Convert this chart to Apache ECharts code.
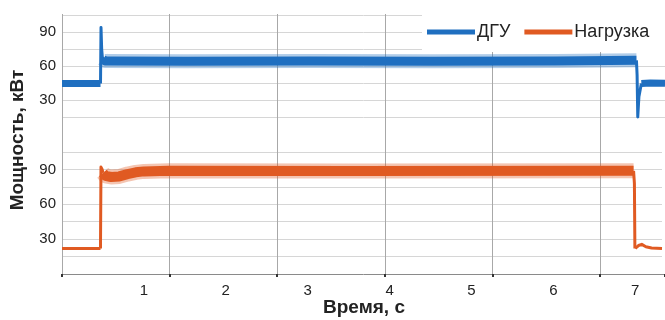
<!DOCTYPE html>
<html>
<head>
<meta charset="utf-8">
<script src="https://cdn.jsdelivr.net/npm/echarts@6/dist/echarts.min.js"></script>
<style>html,body{margin:0;padding:0;background:#fff}#c{width:665px;height:320px}</style>
</head>
<body>
<div id="c"></div>
<script>
// ---- Data (time in s, power in kW) ----
const seriesNames = ['ДГУ', 'Нагрузка'];
const xTickLabels = [1, 2, 3, 4, 5, 6, 7];
const yTickLabels = [30, 60, 90];

// ДГУ (top panel)
const dguBefore = [[0, 44.5], [0.468, 44.5]];
const dguSpike  = [[0.468, 44.5], [0.474, 94], [0.482, 75], [0.49, 68], [0.5, 65]];
const dguRun    = [[0.495, 66], [0.52, 64.5], [1.5, 64.3], [3.0, 64.5], [4.5, 64.3], [6.0, 64.5], [6.98, 65]];
const dguDip    = [[6.98, 65], [6.988, 52], [6.996, 15], [7.01, 33], [7.04, 44.5]];
const dguAfter  = [[7.04, 44.5], [7.15, 45], [7.327, 44.8]];

// Нагрузка (bottom panel)
const loadBefore = [[0, 22], [0.47, 22]];
const loadStep   = [[0.47, 22], [0.476, 92], [0.49, 90], [0.5, 87]];
const loadRun    = [[0.5, 87], [0.53, 84.5], [0.6, 83.5], [0.7, 84], [0.8, 86], [0.9, 87.5], [1.0, 88.3], [1.3, 88.8], [3.5, 88.7], [6.98, 88.8]];
const loadDrop   = [[6.98, 88.8], [6.99, 78], [6.996, 22], [7.0, 22]];
const loadAfter  = [[7.0, 22], [7.04, 24.5], [7.08, 25.5], [7.13, 23.5], [7.2, 22.4], [7.327, 22]];

const gridSpacing = 1.3074; // vertical gridline spacing in seconds
const xMax = 7.327;

const BLUE = '#1f6fc0', ORANGE = '#e05a22';
const FONT = 'Liberation Sans, Arial, sans-serif';

function seg(name, data, color, width, grid, opacity) {
  return {
    name: name, type: 'line', data: data, xAxisIndex: grid, yAxisIndex: grid,
    showSymbol: false, symbol: 'none', silent: true,
    lineStyle: { color: color, width: width, opacity: opacity == null ? 1 : opacity, cap: 'butt', join: 'round' },
    itemStyle: { color: color },
    z: 3
  };
}

const yAxisCommon = {
  type: 'value', min: 0, max: 105, interval: 15,
  axisLine: { show: false }, axisTick: { show: false },
  axisLabel: {
    color: '#222', fontSize: 15, fontFamily: FONT, margin: 6,
    formatter: v => yTickLabels.indexOf(v) >= 0 ? String(v) : ''
  },
  splitLine: { show: true, showMinLine: false, lineStyle: { color: '#d6d6d6', width: 1 } }
};

const chart = echarts.init(document.getElementById('c'), null, { renderer: 'canvas' });
chart.setOption({
  animation: false,
  backgroundColor: '#fff',
  grid: [
    { left: 62, right: 0, top: 15, height: 119 },
    { left: 62, right: 0, top: 152, bottom: 46 },
    { left: 62, right: 0, top: 14, bottom: 46 }
  ],
  xAxis: [
    { gridIndex: 0, type: 'value', min: 0, max: xMax, show: false },
    { gridIndex: 1, type: 'value', min: 0, max: xMax, interval: 1,
      axisLine: { show: false }, axisTick: { show: false }, splitLine: { show: false },
      axisLabel: { color: '#222', fontSize: 15, fontFamily: FONT, margin: 9,
        formatter: v => xTickLabels.indexOf(v) >= 0 ? String(v) : '' } },
    { gridIndex: 2, type: 'value', min: 0, max: xMax, interval: gridSpacing,
      axisLine: { show: true, lineStyle: { color: '#8a8a8a', width: 1 } },
      axisTick: { show: true, length: 3, lineStyle: { color: '#333', width: 2 } },
      axisLabel: { show: false },
      splitLine: { show: true, showMaxLine: false, lineStyle: { color: '#a8a8a8', width: 1 } } }
  ],
  yAxis: [
    Object.assign({ gridIndex: 0 }, yAxisCommon),
    Object.assign({ gridIndex: 1 }, yAxisCommon),
    { gridIndex: 2, type: 'value', min: 0, max: 1, show: false }
  ],
  legend: {
    data: seriesNames.map(n => ({ name: n, icon: 'rect' })),
    orient: 'horizontal',
    left: 427, top: 23, right: 0,
    padding: 0,
    itemWidth: 48, itemHeight: 5, itemGap: 14,
    textStyle: { color: '#222', fontSize: 18, fontFamily: FONT, padding: [0, 0, 0, -3] },
    selectedMode: false,
    z: 10
  },
  graphic: [
    { type: 'rect', z: 1, silent: true, shape: { x: 422, y: 8, width: 243, height: 44 }, style: { fill: '#fff' } },
    { type: 'text', x: 18, y: 140, rotation: Math.PI / 2,
      style: { text: 'Мощность, кВт', font: 'bold 19px ' + FONT, fill: '#222', textAlign: 'center', textVerticalAlign: 'middle' } },
    { type: 'text', x: 364, y: 308,
      style: { text: 'Время, с', font: 'bold 19px ' + FONT, fill: '#222', textAlign: 'center', textVerticalAlign: 'middle' } }
  ],
  series: [
    seg(seriesNames[0], dguRun, BLUE, 14, 0, 0.35),
    seg(seriesNames[0], dguBefore, BLUE, 7, 0),
    seg(seriesNames[0], dguSpike, BLUE, 3, 0),
    seg(seriesNames[0], dguRun, BLUE, 9, 0),
    seg(seriesNames[0], dguDip, BLUE, 3, 0),
    seg(seriesNames[0], dguAfter, BLUE, 7, 0),
    seg(seriesNames[1], loadRun, ORANGE, 15, 1, 0.35),
    seg(seriesNames[1], loadBefore, ORANGE, 3, 1),
    seg(seriesNames[1], loadStep, ORANGE, 3, 1),
    seg(seriesNames[1], loadRun, ORANGE, 10, 1),
    seg(seriesNames[1], loadDrop, ORANGE, 3, 1),
    seg(seriesNames[1], loadAfter, ORANGE, 3, 1)
  ]
});
</script>
</body>
</html>
